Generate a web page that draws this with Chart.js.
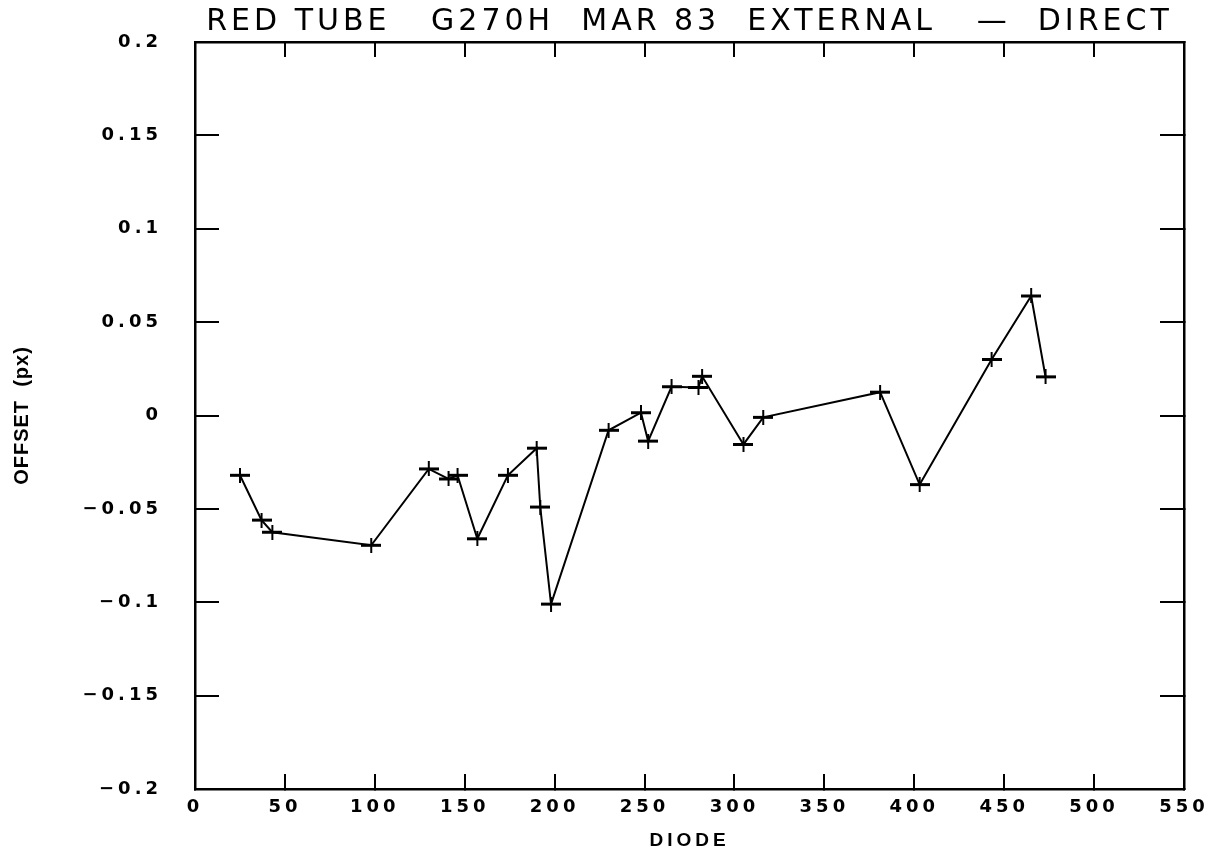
<!DOCTYPE html>
<html>
<head>
<meta charset="utf-8">
<script src="https://cdn.jsdelivr.net/npm/chart.js@4/dist/chart.umd.min.js"></script>
<style>
  body { margin: 0; background: #fff; }
</style>
</head>
<body>
<canvas id="chart" width="1215" height="854"></canvas>
<script>
// values
const diode  = [25, 37, 43, 98, 130, 141, 146, 157, 174, 190, 192, 198, 230, 248, 252, 265, 280, 282, 305, 316, 381, 403, 443, 465, 473];
const offset = [-0.032, -0.056, -0.0625, -0.0695, -0.0286, -0.034, -0.032, -0.066, -0.032, -0.0175, -0.049, -0.101, -0.0079, 0.0015, -0.0137, 0.0154, 0.015, 0.021, -0.0155, -0.001, 0.0125, -0.037, 0.030, 0.064, 0.0207];

const titleText = "RED TUBE   G270H  MAR 83  EXTERNAL   \u2014  DIRECT";
const xTitle = "DIODE";
const yTitle = "OFFSET  (px)";

// plus marker, wider than tall like the plotter one
function makeCross(){
    let c = document.createElement('canvas');
    c.width = 20; c.height = 15;
    let g = c.getContext('2d');
    g.fillStyle = '#000';
    g.fillRect(0, 6, 20, 3);
    g.fillRect(9, 0, 2, 15);
    return c;
}
const cross = makeCross();

function fmtY(v){
    if (Math.abs(v) < 1e-9) return "0";
    let s = Math.abs(v).toFixed(2).replace(/0$/, "");
    return (v < 0 ? "\u2212" : "") + s;
}

// plotter lettering is widely spaced
const spacing = {
    id: 'spacing',
    beforeDraw(chart){ chart.ctx.letterSpacing = '4px'; }
};

// labels sit far from the axis, so drop the overhang padding chart.js adds
function noPad(s){
    s.paddingTop = 0; s.paddingBottom = 0; s.paddingLeft = 0; s.paddingRight = 0;
}

// the OFFSET label is condensed, so draw it with tighter spacing
function tightTitle(s){
    if (s._tight) return;
    const orig = s.drawTitle;
    s.drawTitle = function(){
        this.ctx.save();
        this.ctx.letterSpacing = '1px';
        orig.call(this);
        this.ctx.restore();
    };
    s._tight = true;
}

const axisGrid = (len) => ({ drawOnChartArea: false, drawTicks: true, tickLength: -len, color: '#000', lineWidth: 2 });
const axisBorder = { display: true, color: '#000', width: 2.5 };

new Chart(document.getElementById('chart').getContext('2d'), {
    type: 'line',
    data: {
        datasets: [{
            data: diode.map((d, i) => ({ x: d, y: offset[i] })),
            borderColor: '#000',
            borderWidth: 2,
            tension: 0,
            fill: false,
            pointStyle: cross,
            pointRadius: 8,
            xAxisID: 'x',
            yAxisID: 'y'
        }]
    },
    options: {
        responsive: false,
        animation: false,
        layout: { padding: { left: 0, right: 30, top: 0, bottom: 0 } },
        plugins: {
            legend: { display: false },
            tooltip: { enabled: false },
            title: {
                display: true,
                text: titleText,
                fullSize: false,
                color: '#000',
                font: { family: 'DejaVu Sans', size: 30, weight: 'normal', lineHeight: 1.2 },
                padding: { top: 4, bottom: 0 }
            }
        },
        scales: {
            x: {
                type: 'linear', position: 'bottom', min: 0, max: 550,
                grid: axisGrid(15), border: axisBorder,
                ticks: { stepSize: 50, padding: 23, color: '#000',
                         font: { family: 'DejaVu Sans', size: 18, weight: 'bold' } },
                title: { display: true, text: xTitle, color: '#000',
                         font: { family: 'Liberation Sans', size: 19, weight: 'bold' },
                         padding: { top: 0, bottom: 2 } },
                afterFit(s){ s.height = 65; noPad(s); }
            },
            x2: {
                type: 'linear', position: 'top', min: 0, max: 550,
                grid: axisGrid(15), border: axisBorder,
                ticks: { stepSize: 50, display: false },
                afterFit(s){ s.height = 2; noPad(s); }
            },
            y: {
                type: 'linear', position: 'left', min: -0.2, max: 0.2,
                grid: axisGrid(24), border: axisBorder,
                ticks: { stepSize: 0.05, padding: 57, color: '#000', callback: fmtY,
                         font: { family: 'DejaVu Sans', size: 18, weight: 'bold' } },
                title: { display: true, text: yTitle, color: '#000',
                         font: { family: 'Liberation Sans', size: 20, weight: 'bold' },
                         padding: { top: 10, bottom: 0 } },
                afterFit(s){ s.width = 195; noPad(s); tightTitle(s); }
            },
            y2: {
                type: 'linear', position: 'right', min: -0.2, max: 0.2,
                grid: axisGrid(24), border: axisBorder,
                ticks: { stepSize: 0.05, display: false },
                afterFit(s){ s.width = 1; noPad(s); }
            }
        }
    },
    plugins: [spacing]
});
</script>
</body>
</html>
